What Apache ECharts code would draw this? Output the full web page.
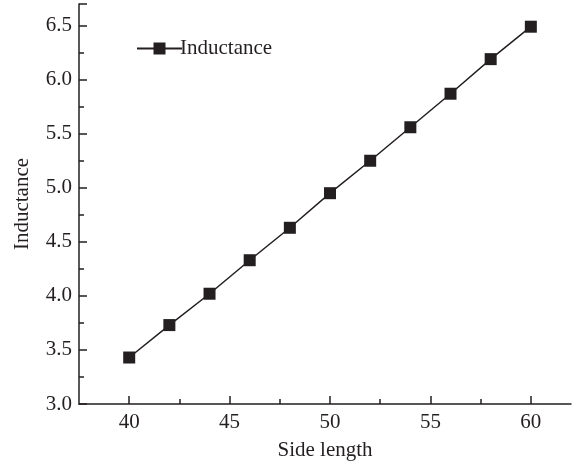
<!DOCTYPE html>
<html>
<head>
<meta charset="utf-8">
<script src="https://cdn.jsdelivr.net/npm/echarts@6/dist/echarts.min.js"></script>
<style>html,body{margin:0;padding:0;background:#fff}#c{width:580px;height:466px}</style>
</head>
<body>
<div id="c"></div>
<script>
var sideLength = [40, 42, 44, 46, 48, 50, 52, 54, 56, 58, 60];
var inductance = [3.43, 3.73, 4.02, 4.33, 4.63, 4.95, 5.25, 5.56, 5.87, 6.19, 6.49];
var seriesName = 'Inductance';
var xTicks = [40, 45, 50, 55, 60];
var xMinorTicks = [42.5, 47.5, 52.5, 57.5];

var font = 'Liberation Serif, Times New Roman, serif';
var ink = '#231f20';
var fs = 21;
var chart = echarts.init(document.getElementById('c'), null, {renderer: 'canvas'});
chart.setOption({
  animation: false,
  backgroundColor: '#fff',
  grid: {left: 79, right: 9, top: 4, bottom: 62, containLabel: false, outerBoundsMode: 'none'},
  legend: {
    left: 131, top: 33, itemWidth: 45, itemHeight: 15, itemGap: 4,
    textStyle: {fontFamily: font, fontSize: fs, color: ink, padding: [0, 0, 0, -7]},
    data: [seriesName]
  },
  xAxis: [{
    type: 'value', min: 37.5, max: 62,
    name: 'Side length', nameLocation: 'middle', nameGap: 36,
    nameTextStyle: {fontFamily: font, fontSize: fs, color: ink},
    axisLine: {show: true, lineStyle: {color: ink, width: 1.5}},
    axisTick: {show: true, inside: true, length: 8, customValues: xTicks, lineStyle: {color: ink, width: 1.5}},
    splitLine: {show: false},
    axisLabel: {fontFamily: font, fontSize: fs, color: ink, margin: 8, customValues: xTicks,
      formatter: function (v) { return String(v); }}
  }, {
    type: 'value', min: 37.5, max: 62, position: 'bottom',
    axisLine: {show: false},
    axisTick: {show: true, inside: true, length: 5, customValues: xMinorTicks, lineStyle: {color: ink, width: 1.5}},
    splitLine: {show: false},
    axisLabel: {show: false}
  }],
  yAxis: {
    type: 'value', min: 3.0, max: 6.7, interval: 0.5,
    name: 'Inductance', nameLocation: 'middle', nameGap: 46, nameRotate: 90,
    nameTextStyle: {fontFamily: font, fontSize: fs, color: ink},
    axisLine: {show: true, lineStyle: {color: ink, width: 1.5}},
    axisTick: {show: true, inside: true, length: 8, lineStyle: {color: ink, width: 1.5}},
    minorTick: {show: true, splitNumber: 2, length: 5, lineStyle: {color: ink, width: 1.5}},
    splitLine: {show: false},
    axisLabel: {fontFamily: font, fontSize: fs, color: ink, margin: 7, showMaxLabel: false,
      formatter: function (v) { return v.toFixed(1); }}
  },
  series: [{
    name: seriesName, type: 'line', xAxisIndex: 0,
    data: sideLength.map(function (x, i) { return [x, inductance[i]]; }),
    symbol: 'rect', symbolSize: 12,
    lineStyle: {color: ink, width: 1.5},
    itemStyle: {color: ink}
  }]
});
</script>
</body>
</html>
